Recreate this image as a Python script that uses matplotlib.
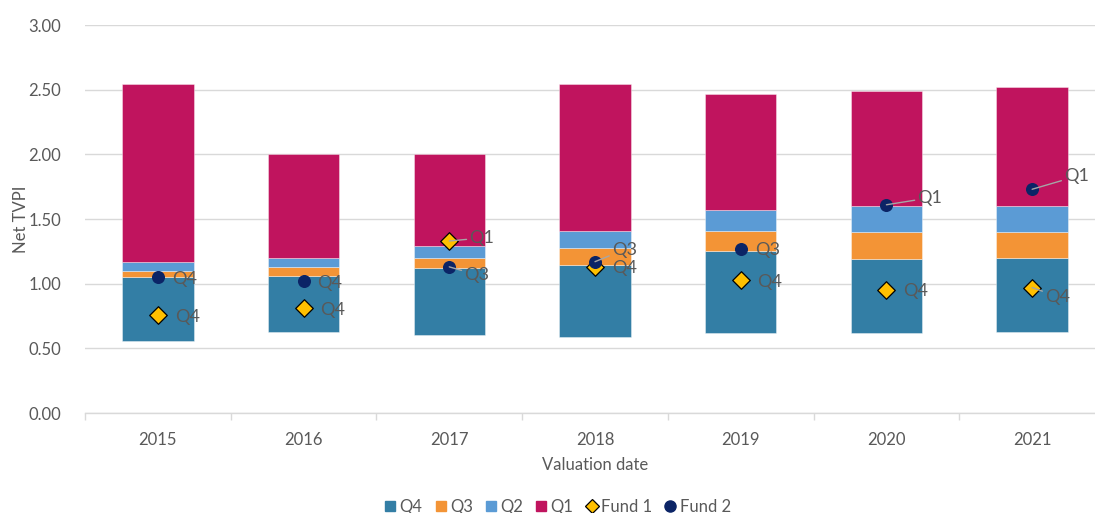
import numpy as np
import matplotlib
matplotlib.use("Agg")
import matplotlib.pyplot as plt
from matplotlib.lines import Line2D
from matplotlib.patches import Patch

plt.rcParams['font.family'] = ['Lato', 'DejaVu Sans']

# Valuation years
years = ['2015', '2016', '2017', '2018', '2019', '2020', '2021']

# Quartile boundaries (net TVPI)
base = [0.56, 0.63, 0.60, 0.59, 0.62, 0.62, 0.63]
q4_top = [1.05, 1.06, 1.12, 1.145, 1.25, 1.19, 1.20]
q3_top = [1.10, 1.13, 1.20, 1.275, 1.405, 1.40, 1.40]
q2_top = [1.17, 1.20, 1.295, 1.41, 1.57, 1.60, 1.60]
q1_top = [2.54, 2.00, 2.00, 2.54, 2.47, 2.49, 2.52]

# Fund points and their quartile labels
fund1 = [0.76, 0.81, 1.33, 1.13, 1.03, 0.95, 0.97]
fund1_q = ['Q4', 'Q4', 'Q1', 'Q4', 'Q4', 'Q4', 'Q4']
fund2 = [1.05, 1.02, 1.13, 1.17, 1.27, 1.61, 1.73]
fund2_q = ['Q4', 'Q4', 'Q3', 'Q3', 'Q3', 'Q1', 'Q1']

# label offsets in pixels (dx, dy) and whether a leader line is drawn
fund1_off = [(17, -2), (17, -2), (20, 3), (17, -1), (16, -2), (17, -1), (13, -9)]
fund1_lead = [False, False, True, False, False, False, True]
fund2_off = [(14, -2), (14, -2), (15, -8), (17, 12), (14, -1), (31, 7), (32, 13)]
fund2_lead = [False, False, True, True, False, True, True]

c_q4 = '#337EA5'
c_q3 = '#F39436'
c_q2 = '#5B9BD5'
c_q1 = '#C0145E'
c_f1 = '#FFC000'
c_f2 = '#0B2466'
txt = '#595959'
grid = '#D9D9D9'
fs = 12

base = np.array(base)
q4_top = np.array(q4_top)
q3_top = np.array(q3_top)
q2_top = np.array(q2_top)
q1_top = np.array(q1_top)

fig = plt.figure(figsize=(10.95, 5.13), dpi=100)
ax = fig.add_axes([85 / 1095, 100 / 513, 1020 / 1095, 388 / 513])

x = np.arange(len(years))
w = 0.49
ekw = dict(edgecolor=(1, 1, 1, 0.45), linewidth=0.6, zorder=2)
ax.bar(x, q4_top - base, w, bottom=base, color=c_q4, **ekw)
ax.bar(x, q3_top - q4_top, w, bottom=q4_top, color=c_q3, **ekw)
ax.bar(x, q2_top - q3_top, w, bottom=q3_top, color=c_q2, **ekw)
ax.bar(x, q1_top - q2_top, w, bottom=q2_top, color=c_q1, **ekw)

ax.scatter(x, fund1, marker='D', s=80, color=c_f1, edgecolor='black', linewidth=0.9, zorder=4)
ax.scatter(x, fund2, marker='o', s=70, color=c_f2, zorder=4)

def put_labels(vals, labs, offs, leads):
    for i, (v, lab, off, lead) in enumerate(zip(vals, labs, offs, leads)):
        props = None
        if lead:
            props = dict(arrowstyle='-', color='#A6A6A6', lw=1.0, shrinkA=0, shrinkB=0)
        ax.annotate(lab, (x[i], v), xytext=off, textcoords='offset pixels',
                    ha='left', va='center', fontsize=13, color=txt,
                    arrowprops=props, zorder=5)

put_labels(fund1, fund1_q, fund1_off, fund1_lead)
put_labels(fund2, fund2_q, fund2_off, fund2_lead)

ax.set_ylim(0, 3.0)
yt = np.arange(0, 3.01, 0.5)
ax.set_yticks(yt)
ax.set_yticklabels([f'{v:.2f}' for v in yt])
ax.set_xlim(-0.5, len(years) - 0.5)
ax.set_xticks(x)
ax.set_xticklabels(years)
ax.set_xticks(np.arange(-0.5, len(years)), minor=True)
ax.tick_params(axis='x', which='major', length=0, pad=14, labelsize=fs, labelcolor=txt)
ax.tick_params(axis='x', which='minor', length=5, color=grid, width=1)
ax.tick_params(axis='y', length=0, pad=17, labelsize=fs, labelcolor=txt)

ax.grid(axis='y', color=grid, linewidth=1)
ax.set_axisbelow(True)
for s in ['top', 'right', 'left']:
    ax.spines[s].set_visible(False)
ax.spines['bottom'].set_color(grid)
ax.spines['bottom'].set_linewidth(1)

ax.set_ylabel('Net TVPI', fontsize=fs, color=txt)
ax.yaxis.set_label_coords(-56 / 1020, 0.5)
ax.set_xlabel('Valuation date', fontsize=fs, color=txt)
ax.xaxis.set_label_coords(0.5, -44 / 388)

handles = [
    Patch(color=c_q4, label='Q4'),
    Patch(color=c_q3, label='Q3'),
    Patch(color=c_q2, label='Q2'),
    Patch(color=c_q1, label='Q1'),
    Line2D([], [], marker='D', linestyle='', markersize=7, markerfacecolor=c_f1,
           markeredgecolor='black', markeredgewidth=0.9, label='Fund 1'),
    Line2D([], [], marker='o', linestyle='', markersize=8, color=c_f2, label='Fund 2'),
]
leg = fig.legend(handles=handles, loc='center', bbox_to_anchor=(558 / 1095, 1 - 507 / 513),
                 ncol=6, frameon=False, fontsize=fs, handlelength=0.6, handleheight=0.6,
                 handletextpad=0.25, columnspacing=0.8, labelcolor=txt)

fig.savefig('out.png', dpi=100)
